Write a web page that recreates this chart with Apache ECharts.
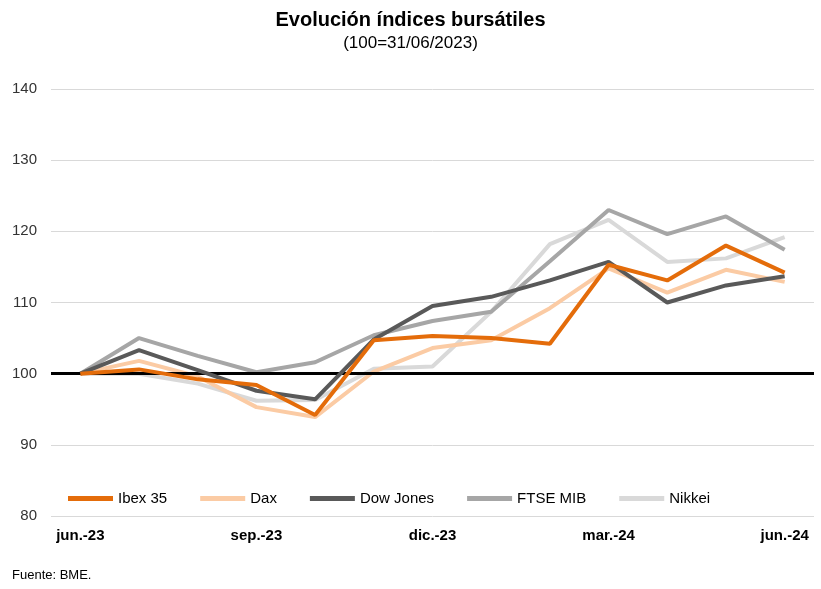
<!DOCTYPE html>
<html>
<head>
<meta charset="utf-8">
<script src="https://cdn.jsdelivr.net/npm/echarts@6/dist/echarts.min.js"></script>
<style>
  html, body { margin: 0; padding: 0; background: #fff; }
  #chart { width: 821px; height: 589px; }
</style>
</head>
<body>
<div id="chart"></div>
<script>
// meses (etiquetas cada 3)
const months = ['jun.-23', 'jul.-23', 'ago.-23', 'sep.-23', 'oct.-23', 'nov.-23', 'dic.-23',
  'ene.-24', 'feb.-24', 'mar.-24', 'abr.-24', 'may.-24', 'jun.-24']
const ibex35 = [100, 100.6, 99.2, 98.4, 94.2, 104.7, 105.3, 105.0, 104.2, 115.3, 113.1, 118.0, 114.2]
const dax = [100, 101.8, 99.6, 95.3, 93.9, 100.3, 103.6, 104.7, 109.2, 114.8, 111.4, 114.6, 112.9]
const dowJones = [100, 103.3, 100.5, 97.6, 96.4, 104.8, 109.5, 110.8, 113.1, 115.7, 110.0, 112.4, 113.7]
const ftseMib = [100, 105.0, 102.5, 100.2, 101.6, 105.4, 107.4, 108.7, 115.8, 123.0, 119.6, 122.1, 117.4]
const nikkei = [100, 100.0, 98.6, 96.2, 96.3, 100.7, 101.0, 108.7, 118.2, 121.6, 115.7, 116.2, 119.2]
const baseLine = 100

const font = "'Liberation Sans Narrow', 'Liberation Sans', Arial, sans-serif"
const mChart = echarts.init(document.getElementById('chart'))

const mkSeries = (name, data, color, z) => ({
  name,
  type: 'line',
  data,
  color,
  z,
  symbol: 'none',
  lineStyle: { width: 4, color },
  emphasis: { disabled: true }
})

const series = [
  mkSeries('Ibex 35', ibex35, '#E46C0A', 6),
  mkSeries('Dax', dax, '#FBCBA4', 3),
  mkSeries('Dow Jones', dowJones, '#595959', 5),
  mkSeries('FTSE MIB', ftseMib, '#A6A6A6', 4),
  mkSeries('Nikkei', nikkei, '#D9D9D9', 2)
]
series[0].markLine = {
  silent: true,
  symbol: 'none',
  label: { show: false },
  lineStyle: { color: '#000', width: 3, type: 'solid' },
  data: [{ yAxis: baseLine }]
}

const options = {
  animation: false,
  textStyle: { fontFamily: font },
  title: {
    text: 'Evolución índices bursátiles',
    subtext: '(100=31/06/2023)',
    left: 'center',
    top: 5,
    itemGap: 5,
    textStyle: { fontFamily: font, fontSize: 20, fontWeight: 'bold', color: '#000' },
    subtextStyle: { fontFamily: font, fontSize: 17, color: '#000' }
  },
  legend: {
    left: 63,
    top: 486,
    itemWidth: 45,
    itemHeight: 5,
    itemGap: 33,
    itemTextGap: 3,
    icon: 'rect',
    textStyle: { fontFamily: font, fontSize: 15, color: '#000' },
    data: ['Ibex 35', 'Dax', 'Dow Jones', 'FTSE MIB', 'Nikkei']
  },
  grid: {
    top: 89,
    left: 51,
    right: 7,
    bottom: 73
  },
  xAxis: {
    type: 'category',
    data: months,
    boundaryGap: true,
    axisLine: { show: false },
    axisTick: { show: false },
    axisLabel: {
      interval: 2,
      margin: 12,
      fontFamily: font,
      fontSize: 15,
      fontWeight: 'bold',
      color: '#000'
    }
  },
  yAxis: {
    type: 'value',
    min: 80,
    max: 140,
    interval: 10,
    axisLine: { show: false },
    axisTick: { show: false },
    axisLabel: { margin: 14, fontFamily: font, fontSize: 15, color: '#333' },
    splitLine: { lineStyle: { color: '#D9D9D9', width: 1 } }
  },
  graphic: [{
    type: 'text',
    left: 12,
    top: 569,
    style: { text: 'Fuente: BME.', font: '13px ' + font, fill: '#000' }
  }],
  series
}
mChart.setOption(options)
</script>
</body>
</html>
